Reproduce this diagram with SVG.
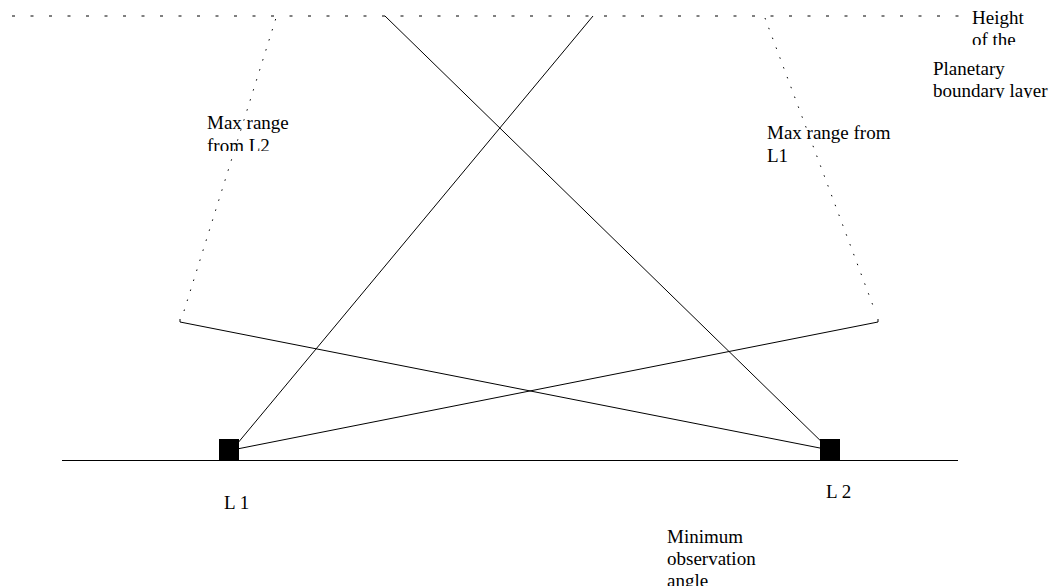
<svg xmlns="http://www.w3.org/2000/svg" width="1052" height="586" viewBox="0 0 1052 586">
<style>
.t{font-family:"Liberation Serif","Times New Roman",serif;font-size:19px;fill:#000}
.s{stroke:#000;stroke-width:1;fill:none}
.d{stroke:#000;stroke-width:1;fill:none;stroke-dasharray:1.5 9}
</style>
<defs>
<clipPath id="c1"><rect x="960" y="0" width="92" height="45"/></clipPath>
<clipPath id="c2"><rect x="920" y="56" width="132" height="42"/></clipPath>
<clipPath id="c3"><rect x="195" y="108" width="100" height="43"/></clipPath>
<clipPath id="c4"><rect x="640" y="520" width="130" height="66"/></clipPath>
</defs>
<rect width="1052" height="586" fill="#fff"/>
<g id="connectors">
<line class="s" x1="12" y1="16" x2="960" y2="16" stroke-dasharray="3 15.5"/>
<line class="d" x1="184" y1="311" x2="276" y2="18"/>
<line class="d" x1="765" y1="18" x2="875" y2="311"/>
<line class="s" x1="385" y1="16" x2="830" y2="450"/>
<line class="s" x1="593" y1="16" x2="232" y2="450"/>
<line class="s" x1="232" y1="450" x2="878" y2="322"/>
<line class="s" x1="830" y1="450" x2="180" y2="322"/>
<line class="s" x1="180" y1="322" x2="180" y2="319"/>
<line class="s" x1="878" y1="322" x2="878" y2="319"/>
<line class="s" x1="62" y1="460.5" x2="958" y2="460.5" stroke="#333"/>
</g>
<g id="L1"><rect x="219" y="439" width="20" height="21" fill="#000"/><text class="t" x="224" y="509">L 1</text></g>
<g id="L2"><rect x="820" y="439" width="20" height="21" fill="#000"/><text class="t" x="826" y="498">L 2</text></g>
<g id="height"><text class="t" clip-path="url(#c1)"><tspan x="972" y="24">Height</tspan><tspan x="972" y="46">of the</tspan></text></g>
<g id="pbl"><text class="t" clip-path="url(#c2)"><tspan x="933" y="75">Planetary</tspan><tspan x="933" y="97">boundary layer</tspan></text></g>
<g id="maxL2"><text class="t" clip-path="url(#c3)"><tspan x="207" y="129">Max range</tspan><tspan x="207" y="152">from L2</tspan></text></g>
<g id="maxL1"><text class="t"><tspan x="767" y="139">Max range from</tspan><tspan x="767" y="162">L1</tspan></text></g>
<g id="minangle"><text class="t" clip-path="url(#c4)"><tspan x="667" y="543">Minimum</tspan><tspan x="667" y="565">observation</tspan><tspan x="667" y="587">angle</tspan></text></g>
</svg>
